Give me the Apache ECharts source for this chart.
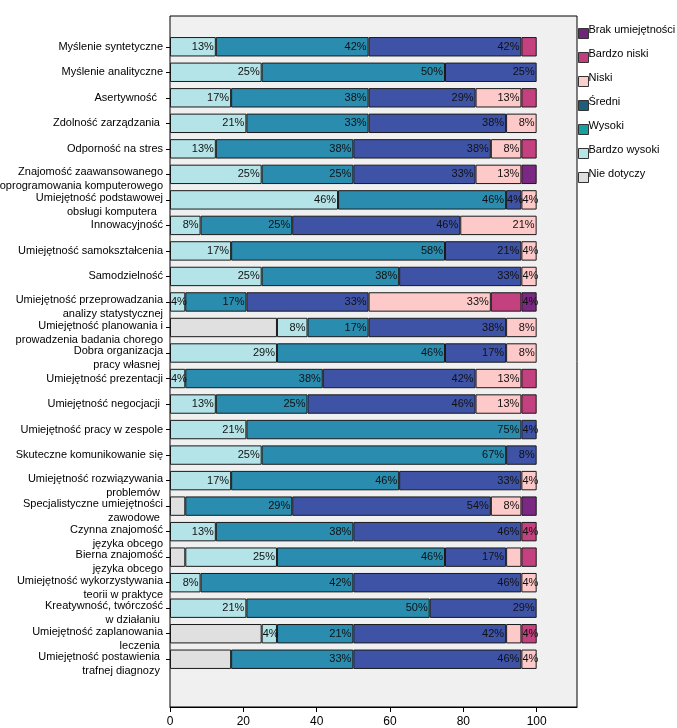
<!DOCTYPE html>
<html>
<head>
<meta charset="utf-8">
<script src="https://cdn.jsdelivr.net/npm/echarts@6/dist/echarts.min.js"></script>
<style>html,body{margin:0;padding:0;background:#fff;}#c{width:677px;height:728px;}</style>
</head>
<body>
<div id="c"></div>
<script>
var categories = [
  "Myślenie syntetyczne",
  "Myślenie analityczne",
  "Asertywność  ",
  "Zdolność zarządzania ",
  "Odporność na stres",
  "Znajomość zaawansowanego\noprogramowania komputerowego",
  "Umiejętność podstawowej\nobsługi komputera  ",
  "Innowacyjność",
  "Umiejętność samokształcenia",
  "Samodzielność",
  "Umiejętność przeprowadzania\nanalizy statystycznej",
  "Umiejętność planowania i\nprowadzenia badania chorego",
  "Dobra organizacja\npracy własnej ",
  "Umiejętność prezentacji",
  "Umiejętność negocjacji ",
  "Umiejętność pracy w zespole",
  "Skuteczne komunikowanie się",
  "Umiejętność rozwiązywania\nproblemów ",
  "Specjalistyczne umiejętności\nzawodowe ",
  "Czynna znajomość\njęzyka obcego",
  "Bierna znajomość\njęzyka obcego",
  "Umiejętność wykorzystywania\nteorii w praktyce",
  "Kreatywność, twórczość\nw działaniu ",
  "Umiejętność zaplanowania\nleczenia ",
  "Umiejętność postawienia \ntrafnej diagnozy "
];

// percentages, left to right order of stacking
var nieDotyczy    = [0,0,0,0,0,0,0,0,0,0,0,29.17,0,0,0,0,0,0,4.17,0,4.17,0,0,25,16.67];
var bardzoWysoki  = [12.5,25,16.67,20.83,12.5,25,45.83,8.33,16.67,25,4.17,8.33,29.17,4.17,12.5,20.83,25,16.67,0,12.5,25,8.33,20.83,4.17,0];
var wysoki        = [41.67,50,37.5,33.33,37.5,25,45.83,25,58.33,37.5,16.67,16.67,45.83,37.5,25,75,66.67,45.83,29.17,37.5,45.83,41.67,50,20.83,33.33];
var sredni        = [41.67,25,29.17,37.5,37.5,33.33,4.17,45.83,20.83,33.33,33.33,37.5,16.67,41.67,45.83,4.17,8.33,33.33,54.17,45.83,16.67,45.83,29.17,41.67,45.83];
var niski         = [0,0,12.5,8.33,8.33,12.5,4.17,20.83,4.17,4.17,33.33,8.33,8.33,12.5,12.5,0,0,4.17,8.33,0,4.17,4.17,0,4.17,4.17];
var bardzoNiski   = [4.17,0,4.17,0,4.17,0,0,0,0,0,8.33,0,0,4.17,4.17,0,0,0,0,4.17,4.17,0,0,4.17,0];
var brak          = [0,0,0,0,0,4.17,0,0,0,0,4.17,0,0,0,0,0,0,0,4.17,0,0,0,0,0,0];

var xTicks = [0,20,40,60,80,100];

// segments whose value label is not printed in the picture: [series, row]
var unlabeled = [
  ["Bardzo niski",0],["Bardzo niski",2],["Bardzo niski",4],["Brak umiejętności",5],
  ["Bardzo niski",10],["Bardzo niski",13],["Bardzo niski",14],["Brak umiejętności",18],
  ["Niski",20],["Bardzo niski",20],["Niski",23]
];

var seriesDefs = [
  {name:"Nie dotyczy", data:nieDotyczy, color:"#e0e0e0", legendColor:"#dedede", label:false},
  {name:"Bardzo wysoki", data:bardzoWysoki, color:"#b4e3e8", legendColor:"#b5e5e5", label:true},
  {name:"Wysoki", data:wysoki, color:"#2a8caf", legendColor:"#17a0a0", label:true},
  {name:"Średni", data:sredni, color:"#3f53a6", legendColor:"#1f5e7a", label:true},
  {name:"Niski", data:niski, color:"#fdc9c9", legendColor:"#fccfcf", label:true},
  {name:"Bardzo niski", data:bardzoNiski, color:"#c3417e", legendColor:"#c13f7c", label:true},
  {name:"Brak umiejętności", data:brak, color:"#7a2882", legendColor:"#6e2679", label:true}
];

var FONT = 'Arial, "Liberation Sans", sans-serif';

function isHidden(name, i){
  for (var k=0;k<unlabeled.length;k++){ if(unlabeled[k][0]===name && unlabeled[k][1]===i) return true; }
  return false;
}

var series = seriesDefs.map(function(s){
  return {
    name: s.name,
    type: 'bar',
    stack: 'all',
    xAxisIndex: 1,
    yAxisIndex: 1,
    barWidth: '76%',
    itemStyle: {color: s.color, borderColor: '#1a1a1a', borderWidth: 1},
    label: {
      show: s.label, position: 'insideRight', distance: 2,
      fontSize: 11, fontFamily: FONT, color: '#111',
      formatter: function(p){ return Math.round(p.value) + '%'; }
    },
    emphasis: {disabled: true},
    data: s.data.map(function(v, i){
      if (!v) return '-';
      if (s.label && isHidden(s.name, i)) return {value: v, label: {show: false}};
      // narrow segments: the text does not fit, it starts at the segment's left edge
      if (v < 5) return {value: v, label: {position: 'insideLeft', distance: 1}};
      return v;
    })
  };
});

var legendOrder = ["Brak umiejętności","Bardzo niski","Niski","Średni","Wysoki","Bardzo wysoki","Nie dotyczy"];
var legendData = legendOrder.map(function(n){
  var d = seriesDefs.filter(function(s){return s.name===n;})[0];
  return {name: n, itemStyle: {color: d.legendColor, borderColor: '#333', borderWidth: 1}};
});

var chart = echarts.init(document.getElementById('c'), null, {renderer: 'canvas'});
chart.setOption({
  backgroundColor: '#ffffff',
  animation: false,
  textStyle: {fontFamily: FONT},
  legend: {
    orient: 'vertical', left: 578, top: 24, padding: 0,
    itemWidth: 10, itemHeight: 10, itemGap: 5,
    icon: 'rect',
    selectedMode: false,
    formatter: function(n){ return n + '\n '; },
    textStyle: {fontSize: 11, fontFamily: FONT, color: '#000', lineHeight: 8, padding: [0,0,0,-5]},
    data: legendData
  },
  grid: [
    {left: 170, right: 100, top: 16, bottom: 21, show: true, backgroundColor: '#f0f0f0', borderColor: '#000', borderWidth: 1, outerBoundsMode: 'none', containLabel: false},
    {left: 170, right: 100, top: 34, bottom: 56, outerBoundsMode: 'none', containLabel: false}
  ],
  xAxis: [
    {gridIndex: 0, type: 'value', min: 0, max: 111, interval: 20,
     axisLine: {show: true, lineStyle: {color: '#000'}},
     axisTick: {show: true, length: 5, lineStyle: {color: '#000'},
       customValues: xTicks},
     axisLabel: {fontSize: 12, color: '#000', fontFamily: FONT, margin: 9, customValues: xTicks},
     splitLine: {show: false}},
    {gridIndex: 1, type: 'value', min: 0, max: 111, show: false, splitLine: {show: false}}
  ],
  yAxis: [
    {gridIndex: 0, type: 'value', show: false, splitLine: {show: false}},
    {gridIndex: 1, type: 'category', inverse: true,
     data: categories,
     axisLine: {show: false},
     axisTick: {show: true, alignWithLabel: true, length: 4, lineStyle: {color: '#000'}},
     axisLabel: {fontSize: 11, color: '#000', fontFamily: FONT, margin: 7, lineHeight: 14, align: 'right', interval: 0,
       formatter: function(v){ return v.indexOf('\n') >= 0 ? '{e| }\n' + v : v; },
       rich: {e: {lineHeight: 10, fontSize: 1}}}}
  ],
  series: series
});
</script>
</body>
</html>
